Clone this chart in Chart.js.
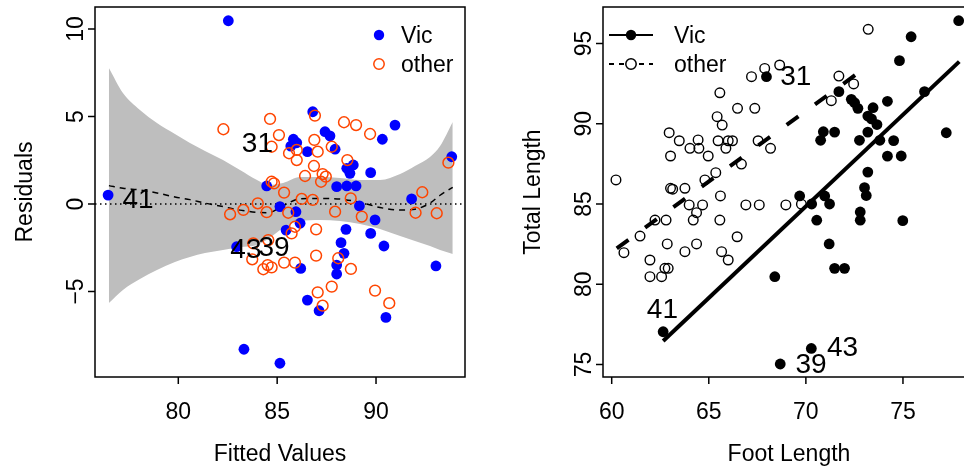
<!DOCTYPE html>
<html>
<head>
<meta charset="utf-8">
<script src="https://cdn.jsdelivr.net/npm/chart.js@4.4.1/dist/chart.umd.min.js"></script>
<style>
html, body { margin: 0; padding: 0; background: #fff; overflow: hidden; width: 964px; height: 468px; }
canvas { position: absolute; top: 0; }
#left { left: 0; }
#right { left: 482px; }
</style>
</head>
<body>
<canvas id="left" width="482" height="468"></canvas>
<canvas id="right" width="510" height="468"></canvas>
<script>
// ---- left panel: residuals vs fitted values ----
var leftXTicks = [80, 85, 90];
var leftYTicks = [-5, 0, 5, 10];

var vicFitted = [76.45, 82.53, 84.47, 85.14, 85.45, 82.95, 83.32, 85.14, 86.8, 90.96, 90.32, 87.42, 87.67, 87.93,
  85.82, 85.99, 85.69, 86.53, 88.52, 88.85, 88.68, 89.73, 88.01, 88.52, 88.99, 93.83, 91.8, 85.95, 86.16, 89.16,
  89.95, 88.48, 89.73, 90.4, 88.23, 88.38, 88.01, 88.01, 86.19, 86.53, 87.12, 90.5, 93.03];
var vicResid = [0.51, 10.47, 1.03, -0.15, -1.49, -2.44, -8.3, -9.1, 5.27, 4.51, 3.7, 4.13, 3.89, 3.13,
  3.7, 3.5, 3.31, 2.99, 2.04, 2.23, 1.75, 1.79, 0.99, 1.03, 1.03, 2.7, 0.29, -0.44, -1.1, -0.11,
  -0.91, -1.45, -1.68, -2.4, -2.21, -2.82, -3.49, -4.0, -3.68, -5.49, -6.1, -6.48, -3.54];

var otherFitted = [82.28, 84.64, 85.09, 84.72, 85.6, 84.72, 84.84, 85.35, 86.91, 86.88, 85.99, 85.99, 87.05, 87.76,
  88.38, 88.99, 89.7, 88.55, 86.86, 86.41, 87.3, 87.46, 87.22, 84.02, 86.24, 86.8, 88.72, 93.66, 92.34, 85.56,
  87.93, 89.28, 92.0, 93.07, 85.73, 85.9, 86.97, 86.97, 88.09, 88.73, 85.35, 85.9, 84.72, 87.05, 87.76, 87.3,
  89.95, 90.67, 82.62, 83.29, 84.47, 83.79, 83.74, 84.52, 84.3, 84.55];
var otherResid = [4.27, 4.86, 3.94, 3.27, 2.9, 1.27, 1.18, 0.65, 5.05, 3.66, 3.09, 2.51, 2.99, 3.27,
  4.67, 4.51, 4.0, 2.51, 2.17, 1.6, 1.71, 1.56, 1.27, 0.04, 0.29, 0.23, 0.32, 2.36, 0.67, -0.5,
  -0.44, -0.72, -0.5, -0.53, -1.68, -1.3, -1.45, -2.95, -3.1, -3.71, -3.35, -3.35, -3.62, -5.05, -4.72, -5.81,
  -4.95, -5.67, -0.59, -0.34, -0.47, -2.25, -3.16, -3.49, -3.73, -2.06];

var smoothX = [76.49, 77.2, 78.06, 78.92, 79.83, 80.59, 81.35, 82.26, 83.12, 83.98, 84.54, 85.3, 86.16, 87.17,
  88.18, 89.19, 90.2, 91.22, 91.97, 92.73, 93.24, 93.88];
var smoothY = [1.05, 0.9, 0.8, 0.63, 0.4, 0.25, 0.05, -0.15, -0.35, -0.48, -0.5, -0.1, 0.3, 0.32,
  0.28, 0.1, -0.2, -0.35, -0.3, 0.05, 0.5, 0.95];
var bandUpper = [7.77, 6.34, 5.37, 4.63, 4.0, 3.49, 3.03, 2.51, 1.94, 1.37, 1.09, 1.2, 1.54, 1.54,
  1.49, 1.37, 1.37, 1.71, 2.17, 2.69, 3.31, 4.69];
var bandLower = [-5.66, -4.91, -4.29, -3.77, -3.31, -3.03, -2.8, -2.63, -2.46, -2.34, -2.0, -1.37, -0.97, -0.91,
  -0.97, -1.14, -1.43, -1.83, -2.11, -2.4, -2.63, -2.86];

var leftLabels = ['41', '31', '43', '39'];
var leftLabelX = [77.96, 84.0, 83.42, 84.84];
var leftLabelY = [0.34, 3.54, -2.51, -2.4];

// ---- right panel: total length vs foot length ----
var rightXTicks = [60, 65, 70, 75];
var rightYTicks = [75, 80, 85, 90, 95];

var vicFoot = [67.97, 62.65, 68.4, 68.68, 71.7, 72.34, 72.51, 72.68, 74.2, 73.46, 73.19, 73.38, 73.66, 73.19,
  72.76, 73.81, 74.2, 70.9, 71.48, 70.76, 73.19, 73.02, 73.11, 72.8, 72.8, 69.68, 70.3, 70.97, 71.22, 70.56,
  77.87, 75.42, 74.82, 76.11, 74.52, 77.23, 74.91, 74.99, 71.2, 71.48, 71.99, 70.28];
var vicTotal = [92.93, 77.04, 80.47, 75.03, 92.0, 91.52, 91.31, 90.96, 91.4, 91.0, 90.48, 90.3, 89.95, 89.48,
  88.97, 88.97, 87.98, 89.5, 89.48, 88.97, 86.99, 86.02, 85.53, 84.5, 83.99, 85.5, 85.0, 85.5, 85.0, 83.99,
  96.42, 95.42, 93.93, 92.0, 88.95, 89.44, 87.99, 83.96, 82.51, 80.99, 80.99, 76.0];

var otherFoot = [60.22, 62.96, 63.48, 63.03, 64.03, 64.45, 64.49, 64.97, 65.48, 65.43, 65.69, 65.57, 65.88, 66.0,
  66.22, 66.48, 67.37, 67.54, 68.18, 67.2, 67.88, 68.65, 66.68, 65.36, 64.8, 63.03, 63.14, 63.77, 65.6, 63.99,
  64.68, 64.37, 64.2, 65.57, 66.91, 67.6, 68.97, 62.23, 62.8, 61.46, 60.63, 62.86, 64.37, 63.77, 61.97, 61.97,
  62.57, 62.74, 62.91, 65.66, 66.0, 66.46, 71.7, 72.46, 71.31, 69.77, 73.21];
var otherTotal = [86.5, 89.44, 88.94, 87.99, 88.47, 88.99, 88.47, 87.99, 88.94, 90.44, 89.92, 91.93, 88.47, 88.94,
  88.94, 90.96, 90.96, 88.94, 88.47, 92.93, 93.45, 93.66, 87.49, 86.95, 86.5, 85.98, 85.92, 85.98, 85.5, 84.94,
  84.94, 84.46, 84.0, 84.0, 84.94, 84.94, 84.94, 84.0, 84.0, 83.0, 81.97, 82.51, 82.51, 82.03, 81.51, 80.47,
  80.47, 80.99, 80.99, 82.03, 81.51, 82.96, 92.97, 92.48, 91.44, 84.99, 95.88];

var vicLineFoot = [62.65, 77.9];
var vicLineTotal = [76.46, 93.87];
var otherLineFoot = [60.26, 72.78];
var otherLineTotal = [82.24, 93.24];

var rightLabels = ['31', '41', '43', '39'];
var rightLabelX = [69.48, 62.61, 71.89, 70.27];
var rightLabelY = [93.04, 78.52, 76.15, 75.12];

var FONT = '"Liberation Sans", Arial, Helvetica, sans-serif';
var ORANGE = '#ff4500';

function pts(xs, ys) {
  return xs.map(function (x, i) { return { x: x, y: ys[i] }; });
}
function fmt(v) {
  return v < 0 ? '\u2212' + Math.abs(v) : String(v);
}

// R-style frame, ticks, titles, labels and legend
var rFrame = {
  id: 'rFrame',
  afterDatasetsDraw: function (chart) {
    var o = chart.options.plugins.rFrame;
    var ctx = chart.ctx, xs = chart.scales.x, ys = chart.scales.y;
    ctx.save();
    ctx.fillStyle = '#000';
    ctx.font = '28px ' + FONT;
    ctx.textAlign = 'center';
    ctx.textBaseline = 'alphabetic';
    o.labels.forEach(function (t, i) {
      ctx.fillText(t, xs.getPixelForValue(o.labelX[i]), ys.getPixelForValue(o.labelY[i]) + 10);
    });
    ctx.restore();
  },
  afterDraw: function (chart) {
    var o = chart.options.plugins.rFrame;
    var ctx = chart.ctx, a = chart.chartArea, xs = chart.scales.x, ys = chart.scales.y;
    ctx.save();
    ctx.strokeStyle = '#000';
    ctx.fillStyle = '#000';
    ctx.lineWidth = 1.5;
    ctx.strokeRect(a.left, a.top, a.right - a.left, a.bottom - a.top);
    ctx.font = '23px ' + FONT;
    ctx.textAlign = 'center';
    ctx.textBaseline = 'alphabetic';
    o.xTicks.forEach(function (v) {
      var px = xs.getPixelForValue(v);
      ctx.beginPath(); ctx.moveTo(px, a.bottom); ctx.lineTo(px, a.bottom + 7); ctx.stroke();
      ctx.fillText(fmt(v), px, a.bottom + 42);
    });
    o.yTicks.forEach(function (v) {
      var py = ys.getPixelForValue(v);
      ctx.beginPath(); ctx.moveTo(a.left, py); ctx.lineTo(a.left - 7, py); ctx.stroke();
      ctx.save(); ctx.translate(a.left - 12.5, py); ctx.rotate(-Math.PI / 2);
      ctx.fillText(fmt(v), 0, 0); ctx.restore();
    });
    ctx.fillText(o.xTitle, (a.left + a.right) / 2, a.bottom + 84);
    ctx.save(); ctx.translate(a.left - 63, (a.top + a.bottom) / 2); ctx.rotate(-Math.PI / 2);
    ctx.fillText(o.yTitle, 0, 0); ctx.restore();

    // legend
    ctx.textAlign = 'left';
    o.legend.forEach(function (it, i) {
      var y = a.top + 28 + i * 29;
      var cx = a.left + it.dx;
      if (it.line) {
        ctx.save();
        ctx.lineWidth = 2;
        ctx.setLineDash(it.dash || []);
        ctx.beginPath(); ctx.moveTo(cx - 22, y); ctx.lineTo(cx + 22, y); ctx.stroke();
        ctx.restore();
      }
      ctx.beginPath();
      ctx.arc(cx, y, 5.2, 0, Math.PI * 2);
      if (it.filled) {
        ctx.fillStyle = it.color; ctx.fill();
      } else {
        ctx.fillStyle = '#fff'; ctx.fill();
        ctx.lineWidth = 1.5; ctx.strokeStyle = it.color; ctx.stroke();
      }
      ctx.fillStyle = '#000';
      ctx.fillText(it.text, cx + it.tx, y + 8);
    });
    ctx.restore();
  }
};

function baseOptions(pad, xr, yr, frame) {
  return {
    responsive: false,
    animation: false,
    devicePixelRatio: 1,
    layout: { padding: pad },
    scales: {
      x: { type: 'linear', min: xr[0], max: xr[1], display: false },
      y: { type: 'linear', min: yr[0], max: yr[1], display: false }
    },
    plugins: { legend: { display: false }, tooltip: { enabled: false }, rFrame: frame }
  };
}

var leftX = [75.787, 94.5], leftY = [-9.886, 11.257];
new Chart(document.getElementById('left'), {
  type: 'scatter',
  data: {
    datasets: [
      { data: pts(otherFitted, otherResid), pointRadius: 5.4, pointBorderWidth: 1.5,
        pointBorderColor: ORANGE, pointBackgroundColor: 'rgba(0,0,0,0)' },
      { data: pts(vicFitted, vicResid), pointRadius: 5.4, pointBorderWidth: 0,
        pointBackgroundColor: '#0000ff' },
      { data: pts(smoothX, smoothY), showLine: true, pointRadius: 0, borderColor: '#000',
        borderWidth: 1.5, borderDash: [6, 5], cubicInterpolationMode: 'monotone' },
      { data: pts(leftX, [0, 0]), showLine: true, pointRadius: 0, borderColor: '#000',
        borderWidth: 1.6, borderDash: [1.5, 3.5] },
      { data: pts(smoothX, bandUpper), showLine: true, pointRadius: 0, borderWidth: 0,
        cubicInterpolationMode: 'monotone', fill: '+1', backgroundColor: '#bebebe' },
      { data: pts(smoothX, bandLower), showLine: true, pointRadius: 0, borderWidth: 0,
        cubicInterpolationMode: 'monotone' }
    ]
  },
  options: baseOptions({ left: 95, right: 17, top: 7, bottom: 91 }, leftX, leftY, {
    xTicks: leftXTicks, yTicks: leftYTicks, xTitle: 'Fitted Values', yTitle: 'Residuals',
    labels: leftLabels, labelX: leftLabelX, labelY: leftLabelY,
    legend: [
      { text: 'Vic', color: '#0000ff', filled: true, dx: 284, tx: 22 },
      { text: 'other', color: ORANGE, filled: false, dx: 284, tx: 22 }
    ]
  }),
  plugins: [rFrame]
});

new Chart(document.getElementById('right'), {
  type: 'scatter',
  data: {
    datasets: [
      { data: pts(vicLineFoot, vicLineTotal), showLine: true, pointRadius: 0, borderColor: '#000',
        borderWidth: 4 },
      { data: pts(otherLineFoot, otherLineTotal), showLine: true, pointRadius: 0, borderColor: '#000',
        borderWidth: 4, borderDash: [14.5, 20.5] },
      { data: pts(otherFoot, otherTotal), pointRadius: 4.8, pointBorderWidth: 1.4,
        pointBorderColor: '#000', pointBackgroundColor: 'rgba(0,0,0,0)' },
      { data: pts(vicFoot, vicTotal), pointRadius: 5.4, pointBorderWidth: 0,
        pointBackgroundColor: '#000' }
    ]
  },
  options: baseOptions({ left: 121, right: 17, top: 7, bottom: 91 }, [59.552, 78.71], [74.221, 97.274], {
    xTicks: rightXTicks, yTicks: rightYTicks, xTitle: 'Foot Length', yTitle: 'Total Length',
    labels: rightLabels, labelX: rightLabelX, labelY: rightLabelY,
    legend: [
      { text: 'Vic', color: '#000', filled: true, line: true, dx: 28, tx: 43 },
      { text: 'other', color: '#000', filled: false, line: true, dash: [5, 5], dx: 28, tx: 43 }
    ]
  }),
  plugins: [rFrame]
});
</script>
</body>
</html>
